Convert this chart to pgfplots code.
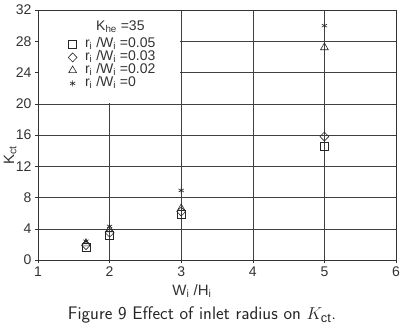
\documentclass[border=0pt]{standalone}
\usepackage{fontspec}
\setmainfont{Liberation Sans}
\usepackage{pgfplots}
\pgfplotsset{compat=1.18}
\begin{document}
\begin{tikzpicture}
\useasboundingbox (-38pt,-70pt) rectangle (372pt,260pt);
\begin{axis}[
  at={(0,0)}, anchor=south west,
  scale only axis, width=358pt, height=250pt,
  xmin=1, xmax=6, ymin=0, ymax=32,
  xtick={1,2,3,4,5,6}, ytick={0,4,...,32},
  grid=major, grid style={black!75, line width=0.4pt},
  axis line style={black!80, line width=0.6pt},
  tick align=outside, major tick length=3pt, tick style={black!80},
  xtick pos=bottom, ytick pos=left,
  ticklabel style={font=\fontsize{14}{14}\selectfont, text=black!80},
  /pgf/number format/assume math mode=true,
  xlabel={W\textsubscript{i} /H\textsubscript{i}},
  ylabel={K\textsubscript{ct}},
  label style={font=\fontsize{15}{15}\selectfont, text=black!80},
  xlabel style={at={(ticklabel cs:0.43)}, yshift=-1pt},
  ylabel style={at={(axis description cs:-0.078,0.42)}, anchor=center},
  legend style={at={(axis cs:1.42,28.45)}, anchor=north west, draw=none, fill=none,
    font=\fontsize{14}{14}\selectfont, text=black!80, row sep=0pt,
    inner sep=0pt, nodes={inner sep=0pt, text height=9.5pt, text depth=3.5pt}},
  legend cell align=left,
]
\fill[white] (axis cs:1.01,20.12) rectangle (axis cs:2.985,31.9);
\node[anchor=west, inner sep=0pt, font=\fontsize{14}{14}\selectfont, text=black!80]
  at (axis cs:1.81,29.9) {K\textsubscript{he} =35};
\addplot[only marks, mark=square, mark size=4pt, black!85, mark options={line width=0.6pt}]
  coordinates {(1.67,1.6) (2,3.2) (3,5.9) (5,14.6)};
\addlegendentry{\hspace{8pt}r\textsubscript{i} /W\textsubscript{i} =0.05}
\addplot[only marks, mark=diamond, mark size=4.5pt, black!85, mark options={line width=0.6pt, xscale=1.3}]
  coordinates {(1.67,1.9) (2,3.5) (3,6.2) (5,15.8)};
\addlegendentry{\hspace{8pt}r\textsubscript{i} /W\textsubscript{i} =0.03}
\addplot[only marks, mark=triangle, mark size=4.5pt, black!85, mark options={line width=0.6pt}]
  coordinates {(1.67,2.1) (2,3.9) (3,6.6) (5,27.2)};
\addlegendentry{\hspace{8pt}r\textsubscript{i} /W\textsubscript{i} =0.02}
\addplot[only marks, mark=asterisk, mark size=3pt, black!85, mark options={line width=0.6pt}]
  coordinates {(1.67,2.4) (2,4.3) (3,8.9) (5,30.0)};
\addlegendentry{\hspace{8pt}r\textsubscript{i} /W\textsubscript{i} =0}
\end{axis}
\node[font=\sffamily\fontsize{18.2}{21}\selectfont, text=black!85] at (164pt,-55pt)
  {Figure 9 Effect of inlet radius on $K_{\mathrm{ct}}$.};
\end{tikzpicture}
\end{document}
